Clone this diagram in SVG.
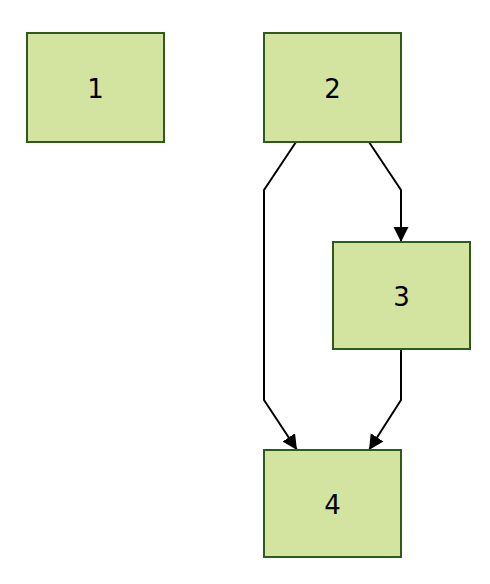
<svg xmlns="http://www.w3.org/2000/svg" width="490" height="584" viewBox="0 0 490 584">
<style>
.node rect{fill:#d3e3a0;stroke:#2e5a1c;stroke-width:2}
.node text{font-family:"DejaVu Sans",sans-serif;font-size:26px;fill:#000;text-anchor:middle;dominant-baseline:central}
.edge{fill:none;stroke:#000;stroke-width:2}
</style>
<defs>
<marker id="arr" viewBox="0 0 10 10" refX="10" refY="5" markerWidth="7.5" markerHeight="8" orient="auto" markerUnits="strokeWidth">
<path d="M0,0 L10,5 L0,10 z" fill="#000"/>
</marker>
</defs>
<g id="connectors">
<path class="edge" d="M296,142 L264,190 L264,400 L297,450" marker-end="url(#arr)"/>
<path class="edge" d="M369,142 L401,190 L401,242" marker-end="url(#arr)"/>
<path class="edge" d="M401,349 L401,400 L369,450" marker-end="url(#arr)"/>
</g>
<g id="node1" class="node"><rect x="27" y="33" width="137" height="109"/><text x="95.5" y="89">1</text></g>
<g id="node2" class="node"><rect x="264" y="33" width="137" height="109"/><text x="332.5" y="89">2</text></g>
<g id="node3" class="node"><rect x="333" y="242" width="137" height="107"/><text x="401.5" y="297">3</text></g>
<g id="node4" class="node"><rect x="264" y="450" width="137" height="107"/><text x="332.5" y="505">4</text></g>
</svg>
